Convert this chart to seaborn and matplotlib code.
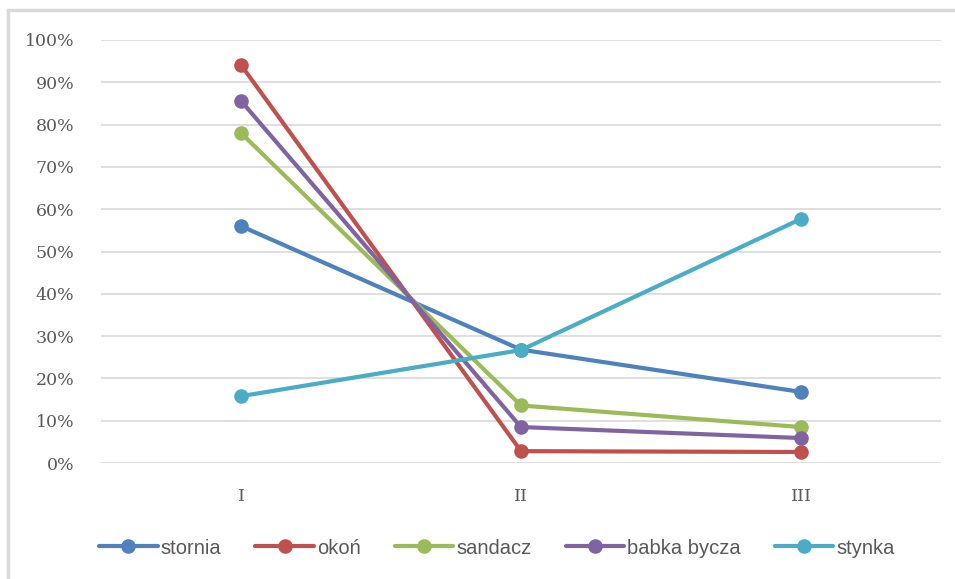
import matplotlib
matplotlib.use("Agg")
import matplotlib.pyplot as plt
from matplotlib.patches import Rectangle
from matplotlib.ticker import PercentFormatter
import pandas as pd
import seaborn as sns

# Share of each species per sampling period
periods = ["I", "II", "III"]
stornia = [0.560, 0.268, 0.168]
okon = [0.941, 0.028, 0.026]
sandacz = [0.780, 0.136, 0.085]
babka_bycza = [0.856, 0.085, 0.059]
stynka = [0.158, 0.267, 0.577]

species = ["stornia", "okoń", "sandacz", "babka bycza", "stynka"]
colors = ["#4F81BD", "#C0504D", "#9BBB59", "#8064A2", "#4BACC6"]
y_ticks = [i / 10 for i in range(11)]

series = [stornia, okon, sandacz, babka_bycza, stynka]
df = pd.DataFrame(
    [(p, v, name) for name, vals in zip(species, series) for p, v in zip(periods, vals)],
    columns=["okres", "udzial", "gatunek"],
)

sns.set_theme(style="white")
plt.rcParams["font.family"] = ["DejaVu Serif"]

fig = plt.figure(figsize=(9.55, 5.79), dpi=100)
ax = fig.add_axes([101 / 955, 1 - 463 / 579, 840 / 955, 423 / 579])

sns.lineplot(
    data=df, x="okres", y="udzial", hue="gatunek", hue_order=species,
    palette=colors, marker="o", markersize=10.5, markeredgewidth=0,
    linewidth=3, sort=False, ax=ax, legend=True,
)

ax.set_xlim(-0.5, 2.5)
ax.set_ylim(0, 1)
ax.set_yticks(y_ticks)
ax.yaxis.set_major_formatter(PercentFormatter(1.0, decimals=0))
ax.grid(axis="y", color="#D9D9D9", linewidth=1.2)
ax.grid(axis="x", visible=False)
ax.set_axisbelow(True)
for s in ax.spines.values():
    s.set_visible(False)
ax.tick_params(axis="both", length=0, labelsize=12.5, labelcolor="#595959")
ax.tick_params(axis="y", pad=19)
ax.tick_params(axis="x", pad=18)
ax.set_xlabel("")
ax.set_ylabel("")

handles, labels = ax.get_legend_handles_labels()
ax.legend_.remove()
fig.legend(
    handles, labels, loc="center", bbox_to_anchor=(497 / 955, 1 - 548 / 579),
    ncol=5, frameon=False, handlelength=2.9, columnspacing=1.7,
    handletextpad=0.15,
    prop={"family": ["Liberation Sans Narrow", "Liberation Sans"], "size": 14.5},
    labelcolor="#595959",
)

# Chart frame
fig.patches.append(Rectangle((8 / 955, -0.1), 1.2, 1.1 - 10 / 579,
                             transform=fig.transFigure, fill=False,
                             edgecolor="#D9D9D9", linewidth=2.5))

fig.savefig("out.png", dpi=100)
